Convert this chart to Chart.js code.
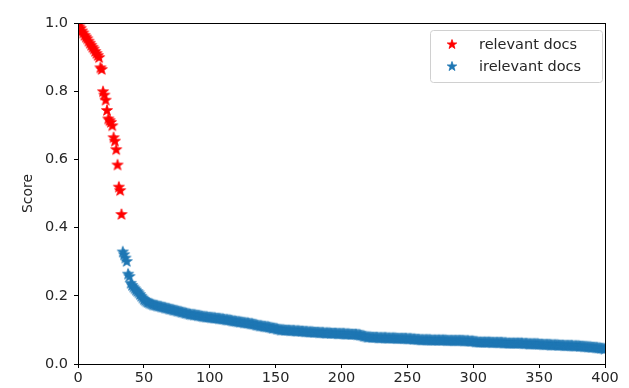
<!DOCTYPE html>
<html>
<head>
<meta charset="utf-8">
<script src="https://cdn.jsdelivr.net/npm/chart.js@4.4.1/dist/chart.umd.min.js"></script>
<style>
  body { margin: 0; background: #fff; }
  #wrap { width: 629px; height: 388px; }
</style>
</head>
<body>
<div id="wrap"><canvas id="chart" width="629" height="388"></canvas></div>
<script>
// relevant docs: score at rank 0, 1, 2 ...
const relevantStart = 0;
const relevantScores = [
  0.995, 0.99, 0.985, 0.978, 0.972, 0.965, 0.96, 0.955, 0.948, 0.942,
  0.936, 0.93, 0.925, 0.918, 0.912, 0.906, 0.90, 0.87, 0.865, 0.80,
  0.79, 0.775, 0.745, 0.72, 0.715, 0.71, 0.70, 0.665, 0.655, 0.63,
  0.585, 0.52, 0.51, 0.44
];

// irrelevant docs: score from rank 34 up to 400
const irrelevantStart = 34;
const irrelevantScores = [
  0.330, 0.322, 0.312, 0.302, 0.265, 0.258,
  0.238, 0.232, 0.227, 0.222, 0.218, 0.214, 0.210, 0.205, 0.200, 0.195,
  0.190, 0.187, 0.184, 0.182, 0.180, 0.178, 0.177, 0.175, 0.174, 0.173,
  0.172, 0.171, 0.170, 0.169, 0.168, 0.167, 0.166, 0.165, 0.164, 0.163,
  0.162, 0.161, 0.160, 0.159, 0.158, 0.157, 0.156, 0.155, 0.154, 0.153,
  0.152, 0.151, 0.150, 0.149, 0.148, 0.147, 0.146, 0.146, 0.145, 0.145,
  0.144, 0.143, 0.143, 0.142, 0.141, 0.140, 0.140, 0.139, 0.139, 0.138,
  0.138, 0.137, 0.137, 0.136, 0.136, 0.135, 0.135, 0.134, 0.134, 0.133,
  0.133, 0.132, 0.131, 0.131, 0.130, 0.130, 0.129, 0.128, 0.127, 0.127,
  0.126, 0.125, 0.125, 0.124, 0.124, 0.123, 0.122, 0.122, 0.121, 0.121,
  0.120, 0.119, 0.119, 0.118, 0.117, 0.116, 0.115, 0.114, 0.113, 0.113,
  0.112, 0.111, 0.111, 0.110, 0.110, 0.109, 0.108, 0.107, 0.106, 0.106,
  0.105, 0.104, 0.103, 0.102, 0.101, 0.101, 0.101, 0.100, 0.100, 0.100,
  0.100, 0.099, 0.099, 0.099, 0.099, 0.098, 0.098, 0.098, 0.098, 0.097,
  0.097, 0.097, 0.096, 0.096, 0.096, 0.095, 0.095, 0.095, 0.095, 0.094,
  0.094, 0.094, 0.094, 0.093, 0.093, 0.093, 0.093, 0.092, 0.092, 0.092,
  0.092, 0.092, 0.091, 0.091, 0.091, 0.091, 0.091, 0.090, 0.090, 0.090,
  0.090, 0.090, 0.090, 0.089, 0.089, 0.089, 0.089, 0.088, 0.088, 0.088,
  0.088, 0.088, 0.087, 0.087, 0.086, 0.085, 0.084, 0.083, 0.082, 0.081,
  0.080, 0.080, 0.080, 0.079, 0.079, 0.079, 0.079, 0.079, 0.078, 0.078,
  0.078, 0.078, 0.078, 0.078, 0.078, 0.077, 0.077, 0.077, 0.077, 0.077,
  0.077, 0.077, 0.076, 0.076, 0.076, 0.076, 0.076, 0.076, 0.076, 0.076,
  0.075, 0.075, 0.075, 0.075, 0.074, 0.074, 0.074, 0.073, 0.073, 0.073,
  0.072, 0.072, 0.072, 0.072, 0.072, 0.072, 0.072, 0.072, 0.071, 0.071,
  0.071, 0.071, 0.071, 0.071, 0.071, 0.071, 0.071, 0.071, 0.071, 0.071,
  0.070, 0.070, 0.070, 0.070, 0.070, 0.070, 0.070, 0.070, 0.070, 0.070,
  0.070, 0.070, 0.070, 0.069, 0.069, 0.069, 0.069, 0.068, 0.068, 0.068,
  0.068, 0.067, 0.066, 0.066, 0.065, 0.065, 0.065, 0.065, 0.065, 0.065,
  0.065, 0.065, 0.065, 0.065, 0.064, 0.064, 0.064, 0.064, 0.064, 0.064,
  0.064, 0.064, 0.064, 0.063, 0.063, 0.063, 0.062, 0.062, 0.062, 0.062,
  0.062, 0.062, 0.062, 0.062, 0.062, 0.062, 0.062, 0.062, 0.061, 0.061,
  0.061, 0.061, 0.060, 0.060, 0.060, 0.060, 0.060, 0.060, 0.060, 0.060,
  0.059, 0.059, 0.059, 0.058, 0.058, 0.058, 0.058, 0.058, 0.058, 0.057,
  0.057, 0.057, 0.057, 0.057, 0.057, 0.056, 0.056, 0.056, 0.056, 0.055,
  0.055, 0.055, 0.055, 0.055, 0.055, 0.055, 0.054, 0.054, 0.054, 0.054,
  0.054, 0.053, 0.053, 0.053, 0.052, 0.052, 0.052, 0.051, 0.051, 0.051,
  0.050, 0.050, 0.050, 0.049, 0.049, 0.048, 0.048, 0.047, 0.047, 0.046,
  0.045
];

const seriesLabels = ['relevant docs', 'irelevant docs'];
const seriesColors = ['#ff0000', '#1f77b4'];
const xTicks = [0, 50, 100, 150, 200, 250, 300, 350, 400];
const yTicks = [0.0, 0.2, 0.4, 0.6, 0.8, 1.0];

const FONT = "'DejaVu Sans', sans-serif";

// filled five pointed star like matplotlib's '*' marker
function makeStar(color, r) {
  const size = Math.ceil(r * 2) + 2;
  const c = document.createElement('canvas');
  c.width = size;
  c.height = size;
  const g = c.getContext('2d');
  const cx = size / 2, cy = size / 2 + r * 0.1;
  const inner = r * 0.4;
  g.beginPath();
  for (let i = 0; i < 10; i++) {
    const rad = i % 2 === 0 ? r : inner;
    const a = -Math.PI / 2 + i * Math.PI / 5;
    const px = cx + rad * Math.cos(a);
    const py = cy + rad * Math.sin(a);
    if (i === 0) g.moveTo(px, py); else g.lineTo(px, py);
  }
  g.closePath();
  g.fillStyle = color;
  g.fill();
  g.strokeStyle = color;
  g.lineWidth = 0.8;
  g.stroke();
  return c;
}

const stars = seriesColors.map(c => makeStar(c, 5.8));
const legendStars = seriesColors.map(c => makeStar(c, 5));

function toPoints(start, scores) {
  return scores.map((s, i) => ({ x: start + i, y: s }));
}

// box round the plot + legend in the upper right corner
const framePlugin = {
  id: 'frame',
  afterDraw(chart) {
    const { ctx, chartArea: a } = chart;
    ctx.save();
    ctx.strokeStyle = '#000';
    ctx.lineWidth = 1;
    ctx.strokeRect(Math.round(a.left) + 0.5, Math.round(a.top) + 0.5,
      Math.round(a.right - a.left), Math.round(a.bottom - a.top));

    // legend
    const bx = 430.5, by = 30.5, bw = 172, bh = 52, r = 3;
    ctx.beginPath();
    ctx.moveTo(bx + r, by);
    ctx.arcTo(bx + bw, by, bx + bw, by + bh, r);
    ctx.arcTo(bx + bw, by + bh, bx, by + bh, r);
    ctx.arcTo(bx, by + bh, bx, by, r);
    ctx.arcTo(bx, by, bx + bw, by, r);
    ctx.closePath();
    ctx.fillStyle = 'rgba(255,255,255,0.8)';
    ctx.fill();
    ctx.strokeStyle = '#d0d0d0';
    ctx.stroke();

    ctx.font = '14.5px ' + FONT;
    ctx.fillStyle = '#262626';
    ctx.textBaseline = 'middle';
    chart.data.datasets.forEach((ds, i) => {
      const y = 44 + i * 22;
      const img = legendStars[i];
      ctx.drawImage(img, 452 - img.width / 2, y - img.height / 2);
      ctx.fillText(ds.label, 479, y + 1);
    });
    ctx.restore();
  }
};

new Chart(document.getElementById('chart'), {
  type: 'scatter',
  data: {
    datasets: [
      {
        label: seriesLabels[0],
        data: toPoints(relevantStart, relevantScores),
        pointStyle: stars[0],
        backgroundColor: seriesColors[0],
        borderColor: seriesColors[0]
      },
      {
        label: seriesLabels[1],
        data: toPoints(irrelevantStart, irrelevantScores),
        pointStyle: stars[1],
        backgroundColor: seriesColors[1],
        borderColor: seriesColors[1]
      }
    ]
  },
  options: {
    responsive: false,
    animation: false,
    layout: { padding: { left: 0, right: 24, top: 23, bottom: 0 } },
    plugins: {
      legend: { display: false },
      tooltip: { enabled: false }
    },
    scales: {
      x: {
        type: 'linear',
        min: 0,
        max: 400,
        afterBuildTicks: (scale) => { scale.ticks = xTicks.map(v => ({ value: v })); },
        afterFit: (scale) => { scale.height = 24; },
        grid: { drawOnChartArea: false, drawTicks: true, tickLength: 4, color: '#000', tickColor: '#000' },
        border: { display: true, color: '#000' },
        ticks: {
          color: '#262626',
          font: { family: FONT, size: 14.5 },
          padding: 2,
          maxRotation: 0,
          callback: (v) => String(v)
        }
      },
      y: {
        type: 'linear',
        min: 0,
        max: 1,
        afterBuildTicks: (scale) => { scale.ticks = yTicks.map(v => ({ value: v })); },
        afterFit: (scale) => { scale.width = 78; },
        grid: { drawOnChartArea: false, drawTicks: true, tickLength: 4, color: '#000', tickColor: '#000' },
        border: { display: true, color: '#000' },
        title: {
          display: true,
          text: 'Score',
          color: '#262626',
          font: { family: FONT, size: 14 },
          padding: { top: 20, bottom: 0 }
        },
        ticks: {
          color: '#262626',
          font: { family: FONT, size: 14.5 },
          padding: 6,
          callback: (v) => Number(v).toFixed(1)
        }
      }
    }
  },
  plugins: [framePlugin]
});
</script>
</body>
</html>
